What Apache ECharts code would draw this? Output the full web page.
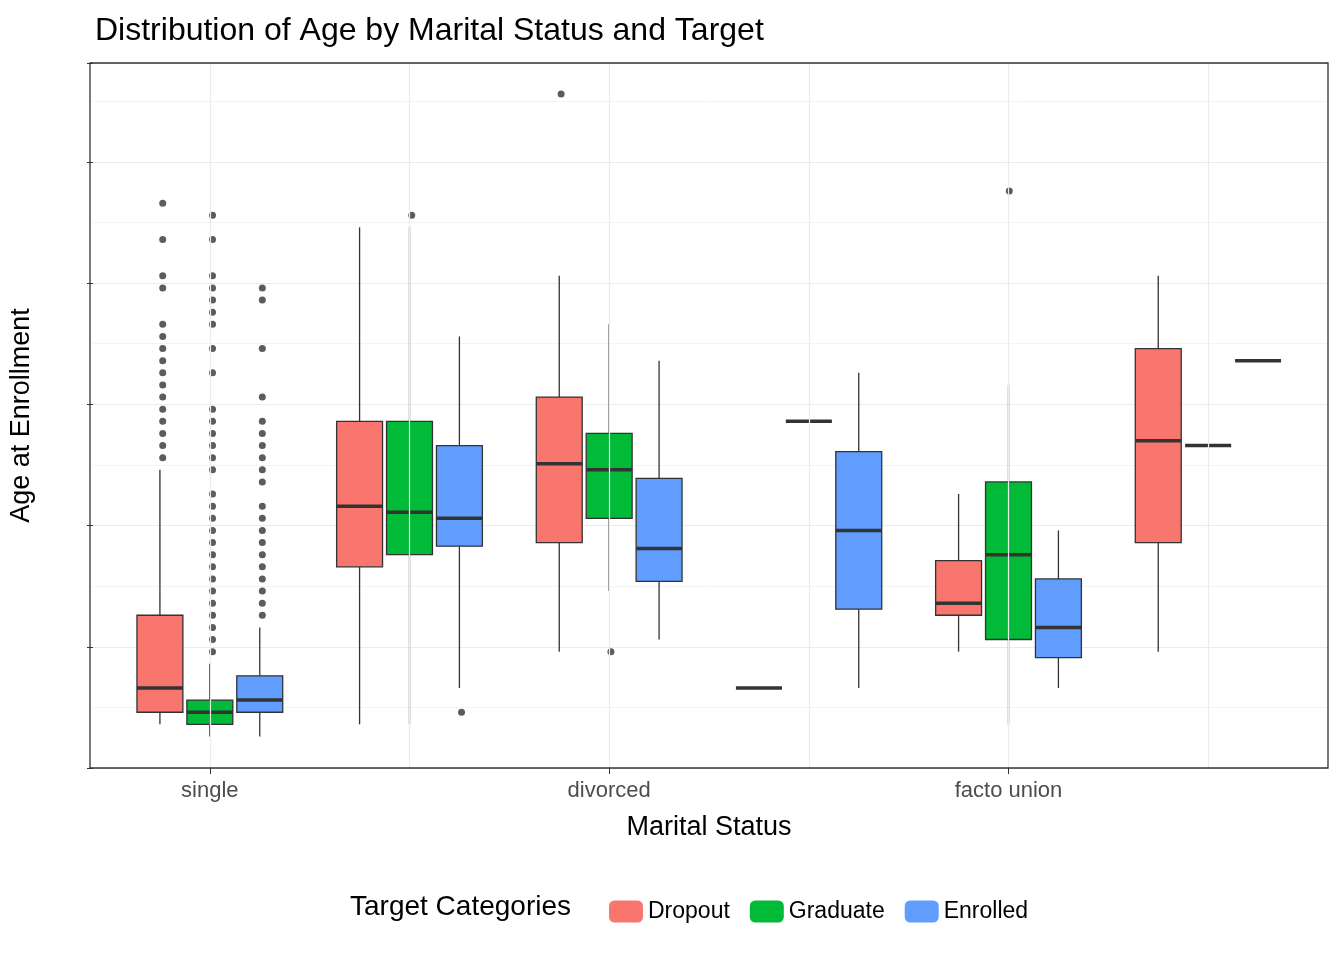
<!DOCTYPE html>
<html>
<head>
<meta charset="utf-8">
<script src="https://cdn.jsdelivr.net/npm/echarts@6/dist/echarts.min.js"></script>
</head>
<body style="margin:0">
<div id="main" style="width:1344px;height:960px;"></div>
<script>
var categories = ['single', 'married', 'divorced', 'widower', 'facto union', 'legally separated'];
var targets = ['Dropout', 'Graduate', 'Enrolled'];
var colors = ['#F8766D', '#00BA38', '#619CFF'];
// [lower whisker, q1, median, q3, upper whisker] per category
var dropoutBox = [[18, 19, 21, 27, 39], [18, 31, 36, 43, 59], [24, 33, 39.5, 45, 55], [21, 21, 21, 21, 21], [24, 27, 28, 31.5, 37], [24, 33, 41.4, 49, 55]];
var graduateBox = [[17, 18, 19, 20, 23], [18, 32, 35.5, 43, 59], [29, 35, 39, 42, 51], [43, 43, 43, 43, 43], [18, 25, 32, 38, 46], [41, 41, 41, 41, 41]];
var enrolledBox = [[17, 19, 20, 22, 26], [21, 32.7, 35, 41, 50], [25, 29.8, 32.5, 38.3, 48], [21, 27.5, 34, 40.5, 47], [21, 23.5, 26, 30, 34], [48, 48, 48, 48, 48]];
// outliers: [category index, value]
var dropoutOut = [[0,40],[0,41],[0,42],[0,43],[0,44],[0,45],[0,46],[0,47],[0,48],[0,49],[0,50],[0,51],[0,54],[0,55],[0,58],[0,61],[2,70]];
var graduateOut = [[0,24],[0,25],[0,26],[0,27],[0,28],[0,29],[0,30],[0,31],[0,32],[0,33],[0,34],[0,35],[0,36],[0,37],[0,39],[0,40],[0,41],[0,42],[0,43],[0,44],[0,47],[0,49],[0,51],[0,52],[0,53],[0,54],[0,55],[0,58],[0,60],[1,60],[2,24],[4,62]];
var enrolledOut = [[0,27],[0,28],[0,29],[0,30],[0,31],[0,32],[0,33],[0,34],[0,35],[0,36],[0,38],[0,39],[0,40],[0,41],[0,42],[0,43],[0,45],[0,49],[0,53],[0,54],[1,19]];

var boxes = [dropoutBox, graduateBox, enrolledBox];
var outs = [dropoutOut, graduateOut, enrolledOut];
var offsets = [-0.25, 0, 0.25];
var halfW = 0.115;
var yMin = 14.4, yMax = 72.56;

function makeRender(k) {
  return function (params, api) {
    var c = api.value(0) + offsets[k];
    var band = api.size([1, 0])[0];
    var x = api.coord([api.value(0), 0])[0] + offsets[k] * band;
    var hw = halfW * band;
    var p = function (v) { return api.coord([api.value(0), v])[1]; };
    var lo = p(api.value(1)), q1 = p(api.value(2)), md = p(api.value(3)), q3 = p(api.value(4)), hi = p(api.value(5));
    var ls = { stroke: '#333', lineWidth: 1.3 };
    var children = [
      { type: 'line', shape: { x1: x, y1: hi, x2: x, y2: q3 }, style: ls },
      { type: 'line', shape: { x1: x, y1: q1, x2: x, y2: lo }, style: ls },
      { type: 'rect', shape: { x: x - hw, y: q3, width: hw * 2, height: q1 - q3 }, style: { fill: colors[k], stroke: '#333', lineWidth: 1.3 } },
      { type: 'line', shape: { x1: x - hw, y1: md, x2: x + hw, y2: md }, style: { stroke: '#333', lineWidth: 3.5 } }
    ];
    return { type: 'group', children: children };
  };
}

var series = [];
for (var k = 0; k < 3; k++) {
  series.push({
    name: targets[k], type: 'custom', xAxisIndex: 1, yAxisIndex: 1,
    itemStyle: { color: colors[k], borderColor: '#333' },
    renderItem: makeRender(k),
    encode: { x: 0, y: [1, 2, 3, 4, 5] },
    data: boxes[k].map(function (b, i) { return [i].concat(b); })
  });
}
for (var k = 0; k < 3; k++) {
  series.push({
    type: 'scatter', xAxisIndex: 0, yAxisIndex: 0, symbolSize: 7, silent: true,
    itemStyle: { color: '#333' },
    data: outs[k].map(function (o) { return [o[0] + 1 + offsets[k], o[1]]; })
  });
}
series.push({
  type: 'line', xAxisIndex: 1, yAxisIndex: 1, data: [], silent: true,
  markLine: { symbol: 'none', silent: true, label: { show: false },
    lineStyle: { color: '#ebebeb', type: 'solid', width: 1.2 },
    data: categories.map(function (c) { return { xAxis: c }; }) }
});

var chart = echarts.init(document.getElementById('main'));
chart.setOption({
  backgroundColor: '#fff',
  animation: false,
  title: { text: 'Distribution of Age by Marital Status and Target', left: 90, top: 10,
    textStyle: { fontFamily: 'Liberation Sans', fontSize: 32, fontWeight: 'normal', color: '#000' } },
  legend: { data: targets, left: 604, top: 895, itemWidth: 34, itemHeight: 22, itemGap: 20,
    textStyle: { fontFamily: 'Liberation Sans', fontSize: 23, color: '#000' } },
  graphic: [
    { type: 'text', left: 350, top: 893, style: { text: 'Target Categories', font: '28px Liberation Sans', fill: '#000' } },
    { type: 'rect', shape: { x: 90, y: 63, width: 1238, height: 705 }, style: { fill: 'none', stroke: '#333', lineWidth: 1.3 }, z: 100 }
  ],
  grid: [
    { left: 90, right: 16, top: 63, bottom: 192 },
    { left: 110, right: 36, top: 63, bottom: 192 }
  ],
  xAxis: [
    { type: 'value', gridIndex: 0, min: 0.4, max: 6.6, show: false },
    { type: 'category', gridIndex: 1, data: categories,
      axisLine: { show: false }, axisTick: { show: true, alignWithLabel: true, length: 6, lineStyle: { color: '#333' } },
      axisLabel: { fontFamily: 'Liberation Sans', fontSize: 22, color: '#4d4d4d', margin: 12 },
      name: 'Marital Status', nameLocation: 'middle', nameGap: 46,
      nameTextStyle: { fontFamily: 'Liberation Sans', fontSize: 27, color: '#000' } }
  ],
  yAxis: [
    { type: 'value', gridIndex: 0, min: yMin, max: yMax, interval: 10,
      axisLine: { show: false }, axisTick: { show: true, length: 6, lineStyle: { color: '#333' } },
      axisLabel: { fontFamily: 'Liberation Sans', fontSize: 22, color: '#4d4d4d', margin: 12,
        formatter: function (v) { return v % 10 === 0 ? v : ''; } },
      splitLine: { lineStyle: { color: '#ebebeb', width: 1.2 } },
      minorTick: { show: false, splitNumber: 2 },
      minorSplitLine: { show: true, lineStyle: { color: '#f3f3f3', width: 1 } },
      name: 'Age at Enrollment', nameLocation: 'middle', nameGap: 58,
      nameTextStyle: { fontFamily: 'Liberation Sans', fontSize: 27, color: '#000' } },
    { type: 'value', gridIndex: 1, min: yMin, max: yMax, show: false, splitLine: { show: false } }
  ],
  series: series
});
</script>
</body>
</html>
